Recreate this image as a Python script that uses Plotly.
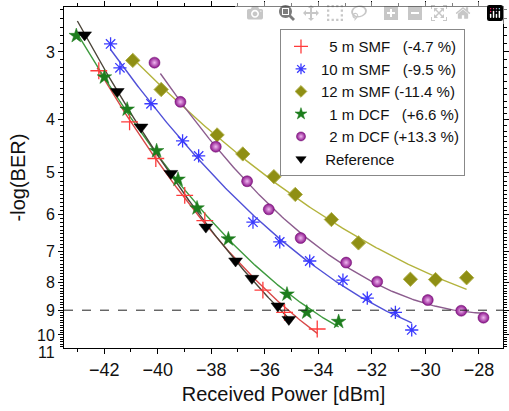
import numpy as np
import plotly.graph_objects as go

# ---------------- data ----------------
names = ["\u20075 m SMF\u2007 (-4.7 %)", "10 m SMF\u2007 (-9.5 %)", "12 m SMF (-11.4 %)",
         "\u20071 m DCF\u2007 (+6.6 %)", "\u20072 m DCF (+13.3 %)", "\u00a0Reference"]

smf5_x = [-42.20, -41.05, -40.07, -38.99, -38.24, -36.07, -35.26, -34.04]
smf5_y = [3.25, 4.04, 4.72, 5.52, 6.15, 8.26, 9.08, 9.75]

smf10_x = [-41.76, -41.41, -40.25, -39.07, -38.47, -36.44, -35.44, -34.32, -33.08, -32.17, -31.12, -30.51]
smf10_y = [2.90, 3.21, 3.74, 4.38, 4.67, 6.19, 6.73, 7.30, 7.92, 8.55, 9.08, 9.79]

smf12_x = [-40.93, -39.87, -37.78, -36.82, -35.66, -34.86, -33.51, -32.50, -30.56, -29.62, -28.46]
smf12_y = [3.11, 3.52, 4.27, 4.63, 5.10, 5.50, 6.12, 6.76, 7.89, 7.90, 7.84]

dcf1_x = [-43.04, -41.99, -41.14, -40.04, -39.24, -38.53, -37.36, -35.17, -34.43, -33.24]
dcf1_y = [2.80, 3.34, 3.83, 4.57, 5.16, 5.83, 6.65, 8.41, 9.08, 9.45]

dcf2_x = [-40.12, -39.15, -37.83, -36.66, -35.85, -34.66, -32.96, -31.80, -29.91, -28.66, -27.83]
dcf2_y = [3.14, 3.71, 4.49, 5.20, 5.86, 6.62, 7.35, 7.97, 8.62, 9.02, 9.29]

ref_x = [-42.73, -41.51, -40.62, -39.51, -38.20, -37.09, -36.48, -35.51, -35.10]
ref_y = [2.79, 3.55, 4.13, 5.03, 6.32, 7.30, 7.86, 8.84, 9.36]

# x extent of each fitted curve
fit_span = [(-42.26, -34.04), (-41.76, -30.51), (-40.93, -28.46),
            (-43.05, -33.24), (-39.90, -27.83), (-43.00, -35.10)]

xtick_vals = [-42, -40, -38, -36, -34, -32, -30, -28]
xminor_vals = [-43, -41, -39, -37, -35, -33, -31, -29]
ytick_vals = [3, 4, 5, 6, 7, 8, 9, 10]
ytick_text = ["3", "4", "5", "6", "7", "8", "9", "10"]
yminor_vals = [round(v, 1) for v in np.arange(2.5, 10.6, 0.1) if abs(v - round(v)) > 1e-6]
ybottom_label = "11"
threshold = 9

# ---------------- styles ----------------
def style(sym, size, color, lcolor, lw, grad=None):
    d = dict(symbol=sym, size=size, color=color, line=dict(color=lcolor, width=lw))
    if grad:
        d["gradient"] = dict(type="radial", color=grad)
    return d

plot_sizes = [12, 11, 11, 11, 11, 12]
legend_sizes = [10, 9, 9, 9, 9, 9]
raw_styles = [
    ("cross-thin-open", "#ff3b3b", "#ff3b3b", 1.3, None),
    ("asterisk-open", "#3a3aff", "#3a3aff", 1.3, None),
    ("diamond", "#8f8f14", "#b0b04a", 1, None),
    ("star", "#1d7d1d", "#1d7d1d", 0.5, None),
    ("circle", "#8a128a", "#6a0a6a", 0.5, "#f0b8f0"),
    ("triangle-down", "#000000", "#000000", 0.5, None),
]
line_colors = ["#d84848", "#5050d8", "#b3b33c", "#3e9a3e", "#8c5c8e", "#4a4438"]

series = [(smf5_x, smf5_y), (smf10_x, smf10_y), (smf12_x, smf12_y),
          (dcf1_x, dcf1_y), (dcf2_x, dcf2_y), (ref_x, ref_y)]

fig = go.Figure()

# fitted curves (quadratic fit of log(-logBER) vs power)
for (xs, ys), (x0, x1), lc in zip(series, fit_span, line_colors):
    coef = np.polyfit(np.array(xs), np.log(np.array(ys)), 2)
    xf = np.linspace(x0, x1, 200)
    yf = np.exp(np.polyval(coef, xf))
    fig.add_trace(go.Scatter(x=xf, y=yf, mode="lines", showlegend=False,
                             line=dict(color=lc, width=1.4), hoverinfo="skip"))

for (xs, ys), nm, rs, ps, ls in zip(series, names, raw_styles, plot_sizes, legend_sizes):
    sym, c, lc, lw, gr = rs
    fig.add_trace(go.Scatter(x=xs, y=ys, mode="markers", name=nm, showlegend=False,
                             marker=style(sym, ps, c, lc, lw, gr)))
    # legend entry with a smaller symbol
    fig.add_trace(go.Scatter(x=[None], y=[None], mode="markers", name=nm, showlegend=True,
                             marker=style(sym, ls, c, lc, lw, gr)))

fig.add_shape(type="line", xref="paper", x0=0, x1=1, yref="y", y0=threshold, y1=threshold,
              line=dict(color="#222222", width=1, dash="dash"))

font_family = "Arial, Liberation Sans, sans-serif"

# bottom tick label of the y axis (sits at the lower edge of the frame)
fig.add_annotation(text=ybottom_label, xref="paper", yref="paper", x=0, y=0,
                   xanchor="right", yanchor="middle", xshift=-7, yshift=-4,
                   showarrow=False, font=dict(size=16, family=font_family, color="#111111"))

fig.update_layout(
    template="none",
    width=509, height=411,
    margin=dict(l=64, r=6, t=7, b=63),
    paper_bgcolor="white", plot_bgcolor="white",
    font=dict(family=font_family, color="#111111", size=18),
    showlegend=True,
    legend=dict(x=0.492, y=0.935, xanchor="left", yanchor="top",
                bgcolor="white", bordercolor="#888888", borderwidth=1,
                font=dict(size=15, family=font_family), tracegroupgap=0,
                itemsizing="trace"),
)
fig.update_xaxes(range=[-43.5, -27.1], tickmode="array", tickvals=xtick_vals,
                 automargin=False,
                 ticks="outside", ticklen=5, tickwidth=1, tickcolor="#000000",
                 showline=True, linecolor="#000000", linewidth=1, mirror="allticks",
                 showgrid=False, zeroline=False,
                 tickfont=dict(size=18),
                 minor=dict(tickmode="array", tickvals=xminor_vals,
                            ticks="outside", ticklen=3, tickwidth=1, tickcolor="#000000",
                            showgrid=False),
                 title=dict(text="Received Power [dBm]", font=dict(size=20), standoff=8))
fig.update_yaxes(type="log", range=[np.log10(10.57), np.log10(2.478)],
                 automargin=False,
                 tickmode="array", tickvals=ytick_vals, ticktext=ytick_text,
                 ticks="outside", ticklen=5, tickwidth=1, tickcolor="#000000",
                 showline=True, linecolor="#000000", linewidth=1, mirror="allticks",
                 showgrid=False, zeroline=False,
                 tickfont=dict(size=16),
                 minor=dict(tickmode="array", tickvals=yminor_vals,
                            ticks="outside", ticklen=3, tickwidth=1, tickcolor="#000000",
                            showgrid=False),
                 title=dict(text="-log(BER)", font=dict(size=20), standoff=6))

# the page's default body margin would shift the figure; remove it
fig.write_html("out.html",
               post_script="document.body.style.margin='0';document.body.style.overflow='hidden';")
